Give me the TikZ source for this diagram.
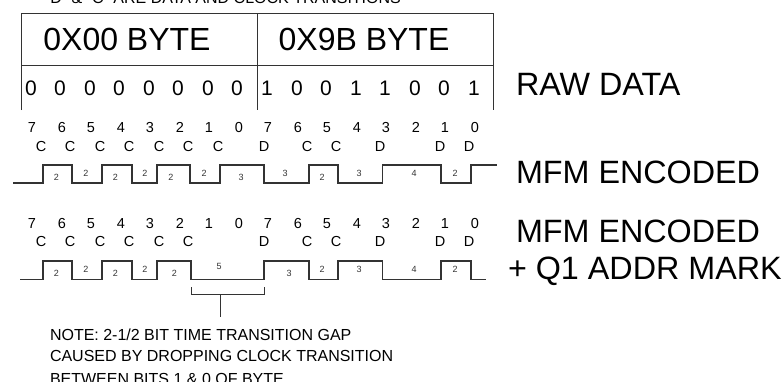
\documentclass[tikz,border=0pt]{standalone}
\usepackage{fontspec}
\setmainfont{Liberation Sans}
\tikzset{x=1pt,y=-1pt,
 every node/.style={inner sep=0pt,outer sep=0pt,text=black},
 frame/.style={draw=black!80,line width=0.8pt},
 wave/.style={draw=black!80,line width=1.1pt,line join=miter},
 big/.style={font=\fontsize{32}{32}\selectfont,anchor=base},
 bit/.style={font=\fontsize{21}{21}\selectfont,anchor=base},
 idx/.style={font=\fontsize{14.5}{14.5}\selectfont,anchor=base},
 gap/.style={font=\fontsize{9}{9}\selectfont,text=black!80,anchor=center},
 side/.style={font=\fontsize{32.3}{32.3}\selectfont,anchor=base west},
 notetxt/.style={font=\fontsize{16}{16}\selectfont,anchor=base west}}
\newcommand{\rowlabels}[3]{%
 \foreach \n/\x in {7/32,6/62,5/91,4/121,3/150,2/180,1/209,0/239,7/268,6/298,5/327,4/357,3/386,2/416,1/445,0/475}
   \node[idx] at (\x,#1) {\n};
 \foreach \l/\x in {#2} \node[idx] at (\x,#3) {\l};}
\begin{document}
\begin{tikzpicture}
\useasboundingbox (0,0) rectangle (784,381);
\begin{scope}
\clip (0,0) rectangle (784,381);
\node[notetxt] (hdr) at (45,3) {``D'' \& ``C'' ARE DATA AND CLOCK TRANSITIONS};
\node[notetxt] (n3) at (50,384) {BETWEEN BITS 1 \& 0 OF BYTE};
\end{scope}
% table
\coordinate (tl) at (21,13.5); \coordinate (tr) at (493,13.5);
\coordinate (ml) at (21,65); \coordinate (mr) at (493,65);
\coordinate (bl) at (21,110); \coordinate (bm) at (257,110); \coordinate (tm) at (257,13.5); \coordinate (br) at (493,110);
\draw[frame] (bl)--(tl)--(tr)--(br);
\draw[frame] (ml)--(mr);
\draw[frame] (tm)--(bm);
\node[big] (b0) at (127,50) {0X00 BYTE};
\node[big] (b1) at (364,50) {0X9B BYTE};
\foreach \b/\x in {0/31,0/60,0/90,0/119,0/149,0/178,0/208,0/237,1/267,0/297,0/326,1/356,1/385,0/415,0/444,1/474}
  \node[bit] at (\x,95) {\b};
\node[side] (raw) at (516,95) {RAW DATA};
% first row
\rowlabels{132}{C/41,C/70,C/100,C/129,C/159,C/188,C/218,D/264,C/307,C/336,D/380,D/440,D/469}{151}
\draw[wave] (13,183)--(43,183)--(43,165)--(72,165)--(72,183)--(102,183)--(102,165)--(132,165)--(132,183)--(157,183)--(157,165)--(190,165)--(190,183)--(220,183)--(220,165)--(264,165)--(264,183)--(309,183)--(309,165)--(338,165)--(338,183)--(382.5,183)--(382.5,165)--(441,165)--(441,183)--(471,183)--(471,165)--(497,165);
\foreach \t/\x/\y in {2/56.5/177,2/86/173,2/115.5/177,2/145/173,2/171/177,2/204/173,3/241/177,3/285/173,2/322/177,3/359/173,4/414/173,2/455/173}
  \node[gap] at (\x,\y) {\t};
\node[side] (mfm1) at (516,183) {MFM ENCODED};
% second row
\rowlabels{228}{C/41,C/70,C/100,C/129,C/159,C/188,D/264,C/307,C/336,D/380,D/440,D/469}{246.5}
\draw[wave] (20,279.5)--(43,279.5)--(43,261)--(72,261)--(72,279.5)--(102,279.5)--(102,261)--(132,261)--(132,279.5)--(157,279.5)--(157,261)--(191,261)--(191,279.5)--(264,279.5)--(264,261)--(309,261)--(309,279.5)--(338,279.5)--(338,261)--(382.5,261)--(382.5,279.5)--(441,279.5)--(441,261)--(471,261)--(471,279.5)--(486,279.5);
\foreach \t/\x/\y in {2/56.5/273,2/86/269,2/115.5/273,2/145/269,2/174.5/273,5/219/266,3/289/273,2/322/269,3/359/269,4/414/269,2/455/269}
  \node[gap] at (\x,\y) {\t};
\node[side] (mfm2) at (516,242) {MFM ENCODED};
\node[side] (q1) at (508,279) {+ Q1 ADDR MARK};
% bracket
\coordinate (ba) at (191,287); \coordinate (bb) at (264.5,287);
\coordinate (sa) at (220,294); \coordinate (sb) at (220,316.5);
\draw[frame] (ba)--(191,294.5)--(264.5,294.5)--(bb);
\draw[frame] (sa)--(sb);
% note
\node[notetxt] (n1) at (50,340) {NOTE: 2-1/2 BIT TIME TRANSITION GAP};
\node[notetxt] (n2) at (50,361) {CAUSED BY DROPPING CLOCK TRANSITION};
\end{tikzpicture}
\end{document}
